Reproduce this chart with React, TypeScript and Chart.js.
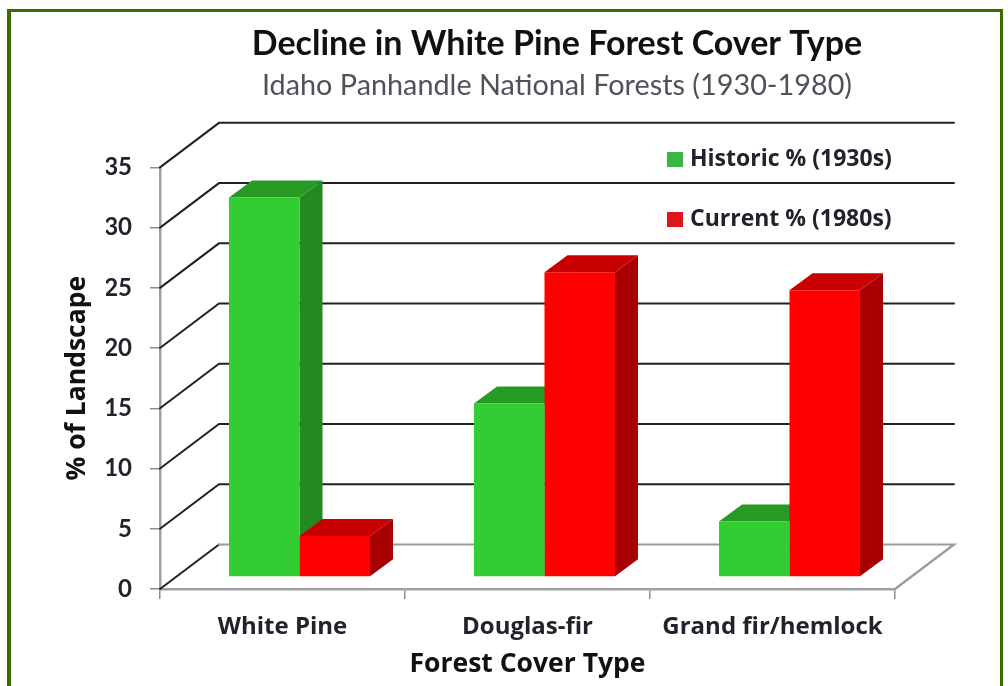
import React, { useEffect, useRef } from "react";
import { Chart, registerables } from "chart.js";

Chart.register(...registerables);

const categories = ["White Pine", "Douglas-fir", "Grand fir/hemlock"];
const historic = [31.5, 14.4, 4.6];
const current = [3.4, 25.3, 23.8];
const yTicks = [0, 5, 10, 15, 20, 25, 30, 35];

const TEXT = "#20222c";
const FONT = "Lato, 'Open Sans', sans-serif";
const WIDE = "'Open Sans', Lato, sans-serif";
const WALL_DX = 59;
const WALL_DY = -44.5;
const BAR_DX = 17;
const BAR_DY = -12;
const DEPTH_DX = 23;
const DEPTH_DY = -17;

const shades = [
  { top: "#279a24", side: "#238a23", swatch: "#3cb547" },
  { top: "#c80000", side: "#a80000", swatch: "#e0141e" },
];

const poly = (ctx: CanvasRenderingContext2D, pts: number[][], fill: string) => {
  ctx.beginPath();
  pts.forEach(([x, y], i) => (i ? ctx.lineTo(x, y) : ctx.moveTo(x, y)));
  ctx.closePath();
  ctx.fillStyle = fill;
  ctx.fill();
};

const threeD = {
  id: "threeD",
  beforeDatasetsDraw(chart: any) {
    const { ctx, scales } = chart;
    const left = scales.x.left;
    const right = scales.x.right;
    ctx.save();
    ctx.lineCap = "round";
    yTicks.forEach((v) => {
      const y = scales.y.getPixelForValue(v);
      ctx.strokeStyle = "#222222";
      ctx.lineWidth = 2;
      ctx.beginPath();
      ctx.moveTo(left, y);
      ctx.lineTo(left + WALL_DX, y + WALL_DY);
      if (v !== 0) ctx.lineTo(right + WALL_DX, y + WALL_DY);
      ctx.stroke();
      if (v === 0) {
        ctx.strokeStyle = "#9a9a9a";
        ctx.lineWidth = 2.2;
        ctx.beginPath();
        ctx.moveTo(left + WALL_DX, y + WALL_DY);
        ctx.lineTo(right + WALL_DX, y + WALL_DY);
        ctx.lineTo(right, y);
        ctx.stroke();
      }
    });
    // extruded sides and tops, built from the bars the library has laid out
    chart.data.datasets.forEach((_: any, di: number) => {
      chart.getDatasetMeta(di).data.forEach((bar: any) => {
        const p = bar.getProps(["x", "y", "base", "width"], true);
        const l = p.x - p.width / 2 + BAR_DX;
        const r = p.x + p.width / 2 + BAR_DX;
        const t = p.y + BAR_DY;
        const b = p.base + BAR_DY;
        poly(ctx, [[r, t], [r + DEPTH_DX, t + DEPTH_DY], [r + DEPTH_DX, b + DEPTH_DY], [r, b]], shades[di].side);
        poly(ctx, [[l, t], [l + DEPTH_DX, t + DEPTH_DY], [r + DEPTH_DX, t + DEPTH_DY], [r, t]], shades[di].top);
      });
    });
    ctx.restore();
    ctx.save();
    ctx.translate(BAR_DX, BAR_DY);
  },
  afterDatasetsDraw(chart: any) {
    const { ctx } = chart;
    ctx.restore();
    // legend, placed inside the plot as in the reference
    ctx.save();
    ctx.font = `bold 23px ${WIDE}`;
    ctx.textBaseline = "middle";
    chart.data.datasets.forEach((ds: any, i: number) => {
      const y = 159 + i * 60;
      ctx.fillStyle = shades[i].swatch;
      ctx.fillRect(667, y - 7, 16, 15);
      ctx.fillStyle = TEXT;
      ctx.fillText(ds.label, 690, y);
    });
    ctx.restore();
  },
};

export default function App() {
  const ref = useRef<HTMLCanvasElement>(null);
  useEffect(() => {
    const chart = new Chart(ref.current!, {
      type: "bar",
      data: {
        labels: categories,
        datasets: [
          { label: "Historic % (1930s)", data: historic, backgroundColor: "#33cc33" },
          { label: "Current % (1980s)", data: current, backgroundColor: "#ff0000" },
        ],
      },
      plugins: [threeD],
      options: {
        animation: false,
        responsive: false,
        devicePixelRatio: 1,
        layout: { padding: { left: 106, right: 0, top: 0, bottom: 0 } },
        datasets: { bar: { barPercentage: 1, categoryPercentage: 0.5755 } },
        plugins: {
          legend: { display: false },
          tooltip: { enabled: false },
          title: {
            display: true,
            text: "Decline in White Pine Forest Cover Type",
            color: "#111111",
            font: { family: FONT, size: 34, weight: "bold" },
            padding: { top: 24, bottom: 0 },
          },
          subtitle: {
            display: true,
            text: "Idaho Panhandle National Forests (1930-1980)",
            color: "#50525a",
            font: { family: FONT, size: 28.8, weight: "normal" },
            padding: { top: 4, bottom: 64 },
          },
        },
        scales: {
          x: {
            grid: { drawOnChartArea: false, drawTicks: true, tickLength: 10, color: "#8c8c8c", lineWidth: 1.5 },
            border: { color: "#a0a0a0", width: 2.5 },
            ticks: {
              color: TEXT,
              maxRotation: 0,
              padding: 14,
              font: { family: WIDE, size: 24, weight: "bold" },
            },
            title: {
              display: true,
              text: "Forest Cover Type",
              color: "#111111",
              font: { family: WIDE, size: 26.5, weight: "bold" },
              padding: { top: 0, bottom: 6 },
            },
            afterFit: (s: any) => {
              s.height = 97;
            },
          },
          y: {
            min: 0,
            max: 35,
            grid: { drawOnChartArea: false, drawTicks: true, tickLength: 10, color: "#8c8c8c", lineWidth: 1.5 },
            border: { color: "#a0a0a0", width: 2.5 },
            ticks: {
              stepSize: 5,
              color: TEXT,
              padding: 18,
              font: { family: FONT, size: 24, weight: "bold" },
            },
            title: {
              display: true,
              text: "% of Landscape",
              color: "#111111",
              font: { family: WIDE, size: 26.5, weight: "bold" },
              padding: { top: -44, bottom: 0 },
            },
            afterFit: (s: any) => {
              s.width = 54;
            },
          },
          // empty spacer that keeps the room to the right for the back wall
          spacer: {
            position: "right",
            display: true,
            grid: { display: false },
            border: { display: false },
            ticks: { display: false },
            afterFit: (s: any) => {
              s.width = 113;
            },
          },
        },
      } as any,
    });
    return () => chart.destroy();
  }, []);
  return (
    <div style={{ position: "absolute", left: 0, top: 0, width: 1008, height: 686, background: "#fff", overflow: "hidden" }}>
      <canvas ref={ref} width={1008} height={686} style={{ display: "block" }} />
      <div
        style={{
          position: "absolute",
          left: 7,
          top: 9,
          width: 1000 - 7 - 4,
          height: 686,
          borderTop: "3px solid #3d6b00",
          borderLeft: "4px solid #3d6b00",
          borderRight: "3px solid #3d6b00",
          pointerEvents: "none",
        }}
      />
    </div>
  );
}
